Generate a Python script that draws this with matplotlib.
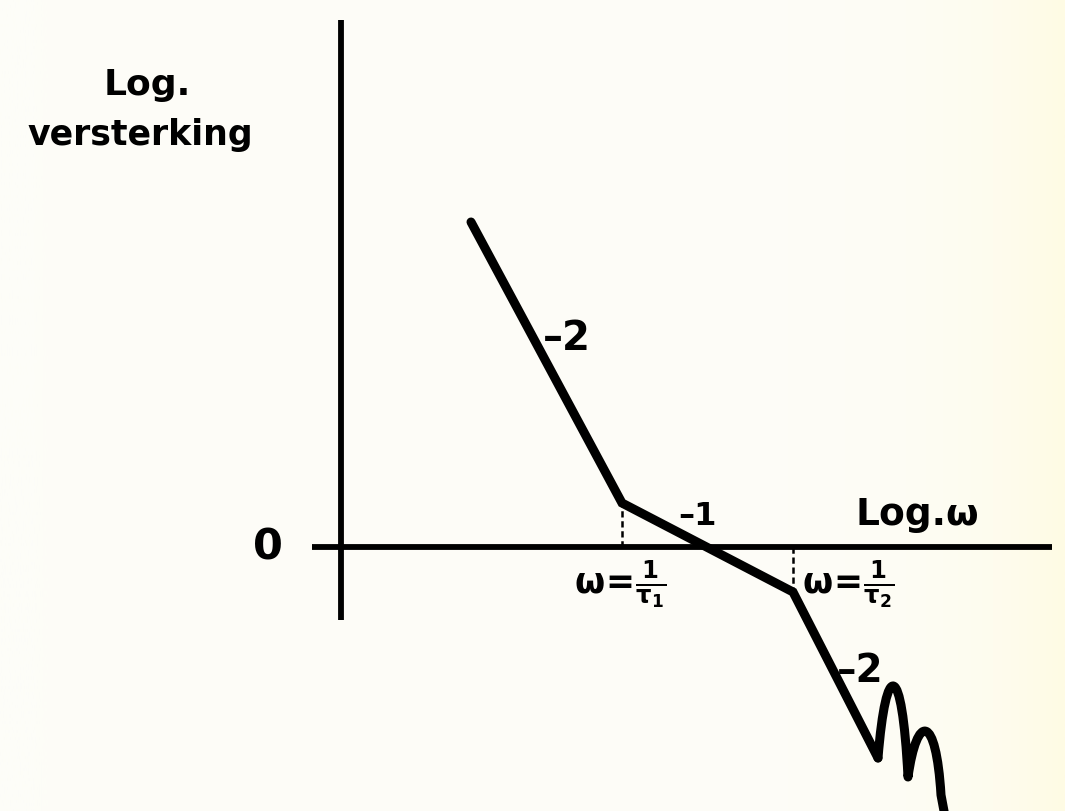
import numpy as np
import matplotlib
matplotlib.use('Agg')
import matplotlib.pyplot as plt
from matplotlib.path import Path
from matplotlib.patches import PathPatch

plt.rcParams['font.family'] = ['DejaVu Sans']
plt.rcParams['font.weight'] = 'bold'
plt.rcParams['mathtext.fontset'] = 'custom'
plt.rcParams['mathtext.rm'] = 'DejaVu Sans:bold'
plt.rcParams['mathtext.it'] = 'DejaVu Sans:bold'
plt.rcParams['mathtext.default'] = 'rm'

# asymptotic gain curve: log(omega) vs log(gain), origin at the axis crossing
log_w = [1.30, 2.81, 4.52, 5.37]
log_gain = [3.25, 0.44, -0.45, -2.11]
slope_labels = ['–2', '–1', '–2']

# corner frequencies (points 1 and 2 of the curve above)
corner_labels = [r'$\omega\!=\!\frac{1}{\tau_1}$', r'$\omega\!=\!\frac{1}{\tau_2}$']

# wavy tail after the last straight piece (bezier vertices)
tail_x = [5.37, 5.45, 5.61, 5.67, 5.76, 5.95, 6.00, 6.06]
tail_y = [-2.11, -1.12, -1.12, -2.30, -1.66, -1.66, -2.48, -2.80]

fig = plt.figure(figsize=(10.65, 8.11), dpi=100)
fig.patch.set_facecolor('#fdfdf8')
ax = fig.add_axes([0, 0, 1, 1])
ax.set_xlim(-3.41, 7.24)
ax.set_ylim(-2.64, 5.47)
ax.axis('off')

# faint yellow tint toward the right edge of the page
grad = np.linspace(0, 1, 400) ** 10
bg = np.zeros((1, 400, 3))
bg[0, :, 0] = (253 + 2 * grad) / 255
bg[0, :, 1] = (253 - 2 * grad) / 255
bg[0, :, 2] = (248 - 20 * grad) / 255
ax.imshow(bg, extent=(-3.41, 7.24, -2.64, 5.47), aspect='auto', zorder=0)

# axes
ax.plot([0, 0], [-0.73, 5.27], color='black', lw=4.2, solid_capstyle='butt', zorder=2)
ax.plot([-0.29, 7.11], [0, 0], color='black', lw=4.2, solid_capstyle='butt', zorder=2)

# dashed guides at the corner frequencies
for i in (1, 2):
    ax.plot([log_w[i], log_w[i]], [0, log_gain[i]], color='black', lw=1.8,
            ls=(0, (2.5, 1.5)), zorder=2)

# straight pieces
ax.plot(log_w, log_gain, color='black', lw=6.5, solid_capstyle='round',
        solid_joinstyle='miter', zorder=3)

# wiggle at the end
verts = list(zip(tail_x, tail_y))
codes = [Path.MOVETO, Path.CURVE4, Path.CURVE4, Path.CURVE4,
         Path.CURVE4, Path.CURVE4, Path.CURVE4, Path.LINETO]
ax.add_patch(PathPatch(Path(verts, codes), fill=False, lw=6.5,
                       edgecolor='black', capstyle='round', joinstyle='round', zorder=3))

# slope labels
ax.text(2.26, 1.97, slope_labels[0], fontsize=29, ha='center', va='baseline')
ax.text(3.56, 0.22, slope_labels[1], fontsize=23, ha='center', va='baseline')
ax.text(5.19, -1.35, slope_labels[2], fontsize=28, ha='center', va='baseline')

# corner frequency labels
ax.text(log_w[1] - 0.02, -0.37, corner_labels[0], fontsize=25, ha='center', va='center')
ax.text(log_w[2] + 0.55, -0.37, corner_labels[1], fontsize=25, ha='center', va='center')

# axis labels
ax.text(-1.94, 4.52, 'Log.', fontsize=26, ha='center', va='baseline')
ax.text(-2.01, 4.02, 'versterking', fontsize=25, ha='center', va='baseline')
ax.text(-0.73, -0.13, '0', fontsize=31, ha='center', va='baseline')
ax.text(5.76, 0.22, 'Log.ω', fontsize=27, ha='center', va='baseline')

fig.savefig('out.png', dpi=100, facecolor=fig.get_facecolor())
